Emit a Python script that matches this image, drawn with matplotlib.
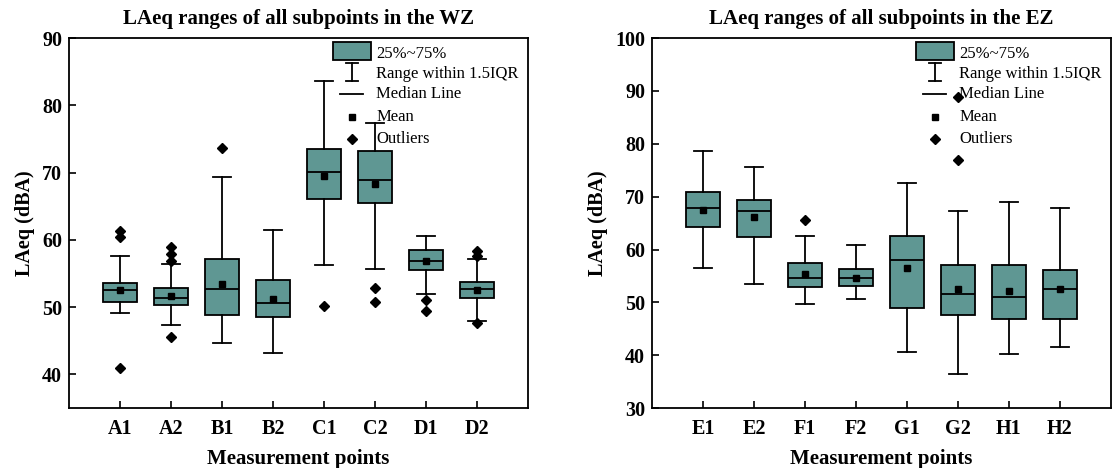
import numpy as np
import matplotlib.pyplot as plt
from matplotlib.patches import Rectangle

plt.rcParams['font.family'] = ['Liberation Serif', 'DejaVu Serif']

# West zone (WZ)
wz_labels = ["A1", "A2", "B1", "B2", "C1", "C2", "D1", "D2"]
wz_whislo = [49.1, 47.4, 44.7, 43.2, 56.3, 55.7, 52.0, 47.9]
wz_q1 = [50.8, 50.3, 48.9, 48.6, 66.1, 65.5, 55.6, 51.4]
wz_med = [52.6, 51.4, 52.7, 50.6, 70.1, 68.9, 56.8, 52.7]
wz_q3 = [53.6, 52.8, 57.1, 54.1, 73.5, 73.2, 58.5, 53.7]
wz_whishi = [57.6, 56.4, 69.3, 61.5, 83.6, 77.4, 60.6, 57.2]
wz_mean = [52.5, 51.6, 53.5, 51.2, 69.5, 68.3, 56.8, 52.6]
wz_fliers = [[61.3, 60.4, 40.9], [58.9, 57.9, 56.9, 45.6], [73.6], [], [50.2],
             [52.8, 50.7], [51.1, 49.5], [58.3, 57.6, 47.6]]

# East zone (EZ)
ez_labels = ["E1", "E2", "F1", "F2", "G1", "G2", "H1", "H2"]
ez_whislo = [56.5, 53.5, 49.6, 50.6, 40.7, 36.5, 40.3, 41.5]
ez_q1 = [64.3, 62.4, 53.0, 53.1, 48.9, 47.7, 46.8, 46.9]
ez_med = [67.9, 67.3, 54.7, 54.7, 58.1, 51.5, 51.1, 52.5]
ez_q3 = [70.9, 69.3, 57.5, 56.3, 62.6, 57.0, 57.0, 56.1]
ez_whishi = [78.7, 75.6, 62.6, 60.9, 72.6, 67.2, 68.9, 67.9]
ez_mean = [67.4, 66.2, 55.3, 54.7, 56.5, 52.6, 52.1, 52.6]
ez_fliers = [[], [], [65.6], [], [], [88.9, 77.0], [], []]

TEAL = "#5f9793"


def make_stats(labels, lo, q1, med, q3, hi, mean, fliers):
    stats = []
    for i in range(len(labels)):
        stats.append(dict(label=labels[i], whislo=lo[i], q1=q1[i], med=med[i],
                          q3=q3[i], whishi=hi[i], mean=mean[i],
                          fliers=np.array(fliers[i])))
    return stats


def draw_legend(ax):
    tr = ax.transAxes
    ax.add_patch(Rectangle((0.575, 0.941), 0.083, 0.048, transform=tr,
                           facecolor=TEAL, edgecolor="black", lw=1.3, clip_on=False))
    ax.plot([0.617, 0.617], [0.884, 0.932], color="black", lw=1.3, transform=tr)
    ax.plot([0.604, 0.630], [0.932, 0.932], color="black", lw=1.3, transform=tr)
    ax.plot([0.604, 0.630], [0.884, 0.884], color="black", lw=1.3, transform=tr)
    ax.plot([0.590, 0.641], [0.849, 0.849], color="black", lw=1.3, transform=tr)
    ax.plot([0.617], [0.786], marker="s", ms=5, color="black", transform=tr)
    ax.plot([0.617], [0.727], marker="D", ms=5.5, color="black", transform=tr)
    texts = ["25%~75%", "Range within 1.5IQR", "Median Line", "Mean", "Outliers"]
    ys = [0.957, 0.903, 0.849, 0.786, 0.727]
    for t, y in zip(texts, ys):
        ax.text(0.669, y, t, transform=tr, fontsize=12, va="center", ha="left")


def draw_panel(ax, stats, title, ylim, yticks):
    ax.bxp(stats, positions=np.arange(1, len(stats) + 1), widths=0.65,
           patch_artist=True, showmeans=True, capwidths=0.35,
           boxprops=dict(facecolor=TEAL, edgecolor="black", lw=1.3),
           medianprops=dict(color="black", lw=1.3),
           whiskerprops=dict(color="black", lw=1.3),
           capprops=dict(color="black", lw=1.3),
           meanprops=dict(marker="s", markerfacecolor="black",
                          markeredgecolor="black", markersize=5),
           flierprops=dict(marker="D", markerfacecolor="black",
                           markeredgecolor="black", markersize=5.5))
    ax.set_xlim(0, 9)
    ax.set_ylim(*ylim)
    ax.set_yticks(yticks)
    ax.set_title(title, fontsize=15, fontweight="bold", pad=10)
    ax.set_xlabel("Measurement points", fontsize=15, fontweight="bold", labelpad=7)
    ax.set_ylabel("LAeq (dBA)", fontsize=14.5, fontweight="bold", labelpad=5)
    ax.tick_params(direction="in", length=5, width=1.2, labelsize=14.5)
    ax.tick_params(axis="x", pad=8)
    ax.tick_params(axis="y", pad=5)
    for lab in ax.get_xticklabels() + ax.get_yticklabels():
        lab.set_fontweight("bold")
    for sp in ax.spines.values():
        sp.set_linewidth(1.3)
    draw_legend(ax)


fig = plt.figure(figsize=(11.13, 4.68), dpi=100)
ax1 = fig.add_axes([0.062, 0.128, 0.4124, 0.7906])
ax2 = fig.add_axes([0.5858, 0.128, 0.4124, 0.7906])

draw_panel(ax1, make_stats(wz_labels, wz_whislo, wz_q1, wz_med, wz_q3, wz_whishi, wz_mean, wz_fliers),
           "LAeq ranges of all subpoints in the WZ", (35, 90), [40, 50, 60, 70, 80, 90])
draw_panel(ax2, make_stats(ez_labels, ez_whislo, ez_q1, ez_med, ez_q3, ez_whishi, ez_mean, ez_fliers),
           "LAeq ranges of all subpoints in the EZ", (30, 100), [30, 40, 50, 60, 70, 80, 90, 100])

fig.savefig("out.png", dpi=100)
